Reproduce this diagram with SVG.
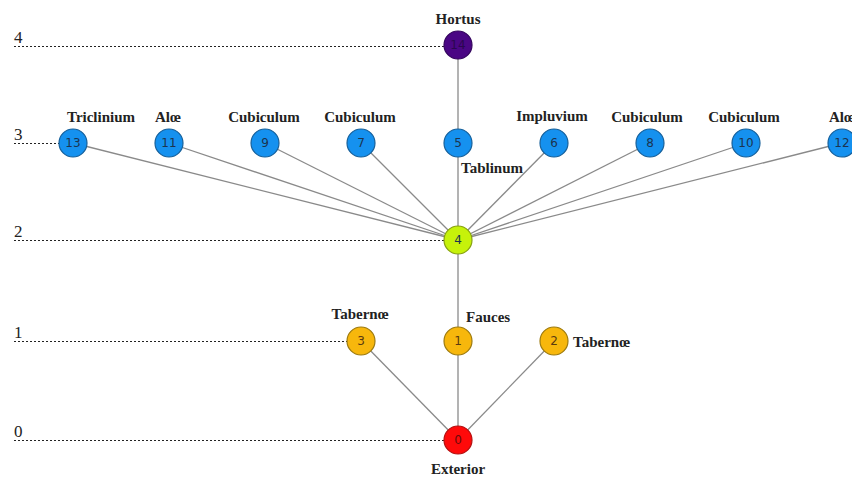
<svg xmlns="http://www.w3.org/2000/svg" width="852" height="477" viewBox="0 0 852 477">
<style>
.lvl{stroke:#222;stroke-width:1;stroke-dasharray:2,2;fill:none}
.lvt{font-family:"Liberation Serif",serif;font-size:17px;fill:#222}
.e{stroke:#8a8a8a;stroke-width:1.3;fill:none}
.n{stroke-width:1.2}
.blue{fill:#1591ef;stroke:#17609a}
.yel{fill:#f7b70c;stroke:#9c7a10}
.red{fill:#ff0a0a;stroke:#b31010}
.lime{fill:#c6f20a;stroke:#86a010}
.pur{fill:#4a0684;stroke:#35065e}
.num{font-family:"DejaVu Sans",sans-serif;font-size:12px;fill:#1b3450;text-anchor:middle;dominant-baseline:central}
.lab{font-family:"Liberation Serif",serif;font-weight:bold;font-size:15px;fill:#222}
.c{text-anchor:middle}
</style>
<g id="levels">
<line class="lvl" x1="14" y1="46.5" x2="444" y2="46.5"/>
<line class="lvl" x1="14" y1="143.5" x2="59" y2="143.5"/>
<line class="lvl" x1="14" y1="240.5" x2="444" y2="240.5"/>
<line class="lvl" x1="14" y1="341.5" x2="347" y2="341.5"/>
<line class="lvl" x1="14" y1="440.5" x2="444" y2="440.5"/>
<text class="lvt" x="14" y="43">4</text>
<text class="lvt" x="14" y="140">3</text>
<text class="lvt" x="14" y="237">2</text>
<text class="lvt" x="14" y="338">1</text>
<text class="lvt" x="14" y="437">0</text>
</g>
<g id="connectors">
<line class="e" x1="458" y1="45" x2="458" y2="143"/>
<line class="e" x1="458" y1="143" x2="458" y2="240"/>
<line class="e" x1="73" y1="143" x2="458" y2="240"/>
<line class="e" x1="169" y1="143" x2="458" y2="240"/>
<line class="e" x1="265" y1="143" x2="458" y2="240"/>
<line class="e" x1="361" y1="143" x2="458" y2="240"/>
<line class="e" x1="554" y1="143" x2="458" y2="240"/>
<line class="e" x1="650" y1="143" x2="458" y2="240"/>
<line class="e" x1="746" y1="143" x2="458" y2="240"/>
<line class="e" x1="842" y1="143" x2="458" y2="240"/>
<line class="e" x1="458" y1="240" x2="458" y2="341"/>
<line class="e" x1="458" y1="341" x2="458" y2="440"/>
<line class="e" x1="361" y1="341" x2="458" y2="440"/>
<line class="e" x1="554" y1="341" x2="458" y2="440"/>
</g>
<g id="n14"><circle class="n pur" cx="458" cy="45" r="14"/><text class="num" x="458" y="45" style="fill:#2a0650">14</text><text class="lab c" x="458" y="24">Hortus</text></g>
<g id="n13"><circle class="n blue" cx="73" cy="143" r="14"/><text class="num" x="73" y="143">13</text><text class="lab" x="67" y="122">Triclinium</text></g>
<g id="n11"><circle class="n blue" cx="169" cy="143" r="14"/><text class="num" x="169" y="143">11</text><text class="lab" x="155" y="122">Alœ</text></g>
<g id="n9"><circle class="n blue" cx="265" cy="143" r="14"/><text class="num" x="265" y="143">9</text><text class="lab c" x="264" y="122">Cubiculum</text></g>
<g id="n7"><circle class="n blue" cx="361" cy="143" r="14"/><text class="num" x="361" y="143">7</text><text class="lab c" x="360" y="122">Cubiculum</text></g>
<g id="n5"><circle class="n blue" cx="458" cy="143" r="14"/><text class="num" x="458" y="143">5</text><text class="lab" x="461" y="173">Tablinum</text></g>
<g id="n6"><circle class="n blue" cx="554" cy="143" r="14"/><text class="num" x="554" y="143">6</text><text class="lab c" x="552" y="121">Impluvium</text></g>
<g id="n8"><circle class="n blue" cx="650" cy="143" r="14"/><text class="num" x="650" y="143">8</text><text class="lab c" x="647" y="122">Cubiculum</text></g>
<g id="n10"><circle class="n blue" cx="746" cy="143" r="14"/><text class="num" x="746" y="143">10</text><text class="lab c" x="744" y="122">Cubiculum</text></g>
<g id="n12"><circle class="n blue" cx="842" cy="143" r="14"/><text class="num" x="842" y="143">12</text><text class="lab" x="829" y="122">Alœ</text></g>
<g id="n4"><circle class="n lime" cx="458" cy="240" r="14"/><text class="num" x="458" y="240">4</text></g>
<g id="n3"><circle class="n yel" cx="361" cy="341" r="14"/><text class="num" x="361" y="341" style="fill:#5a3a10">3</text><text class="lab c" x="360" y="319">Tabernœ</text></g>
<g id="n1"><circle class="n yel" cx="458" cy="341" r="14"/><text class="num" x="458" y="341" style="fill:#5a3a10">1</text><text class="lab" x="466" y="322">Fauces</text></g>
<g id="n2"><circle class="n yel" cx="554" cy="341" r="14"/><text class="num" x="554" y="341" style="fill:#5a3a10">2</text><text class="lab" x="573" y="347">Tabernœ</text></g>
<g id="n0"><circle class="n red" cx="458" cy="440" r="14"/><text class="num" x="458" y="440" style="fill:#6a0a0a">0</text><text class="lab c" x="458" y="474">Exterior</text></g>
</svg>
